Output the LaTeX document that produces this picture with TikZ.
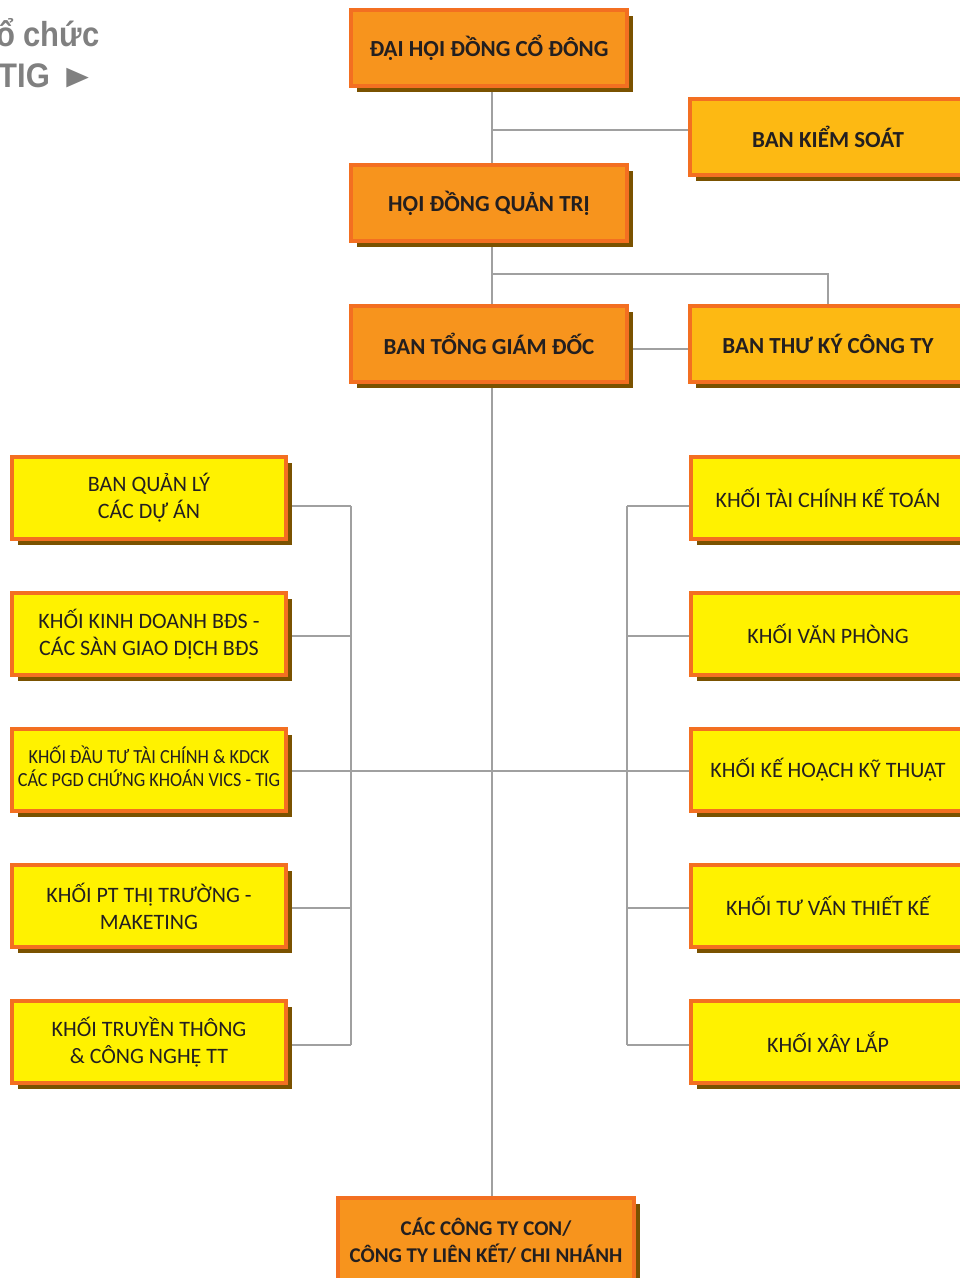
\documentclass[tikz,border=0pt]{standalone}
\usepackage{fontspec}
\setmainfont{Carlito}
\newfontfamily\hdfont{Liberation Sans}
\usetikzlibrary{shadows,backgrounds}
\definecolor{orgfill}{HTML}{F7941D}
\definecolor{bord}{HTML}{F36F21}
\definecolor{gldfill}{HTML}{FDB913}
\definecolor{yelfill}{HTML}{FFF200}
\definecolor{shd}{HTML}{7A5200}
\definecolor{txt}{HTML}{231F20}
\definecolor{conn}{HTML}{A0A0A0}
\definecolor{hdgray}{HTML}{808080}
\begin{document}
\begin{tikzpicture}[x=1pt,y=-1pt,
  box/.style={draw=bord, line width=4pt, outer sep=0pt, inner sep=0pt, align=center, text=txt,
    drop shadow={shadow xshift=6pt, shadow yshift=-6pt, fill=shd, opacity=1}},
  topbox/.style={box, fill=orgfill, minimum width=276pt, minimum height=76pt,
    font=\bfseries\fontsize{23}{27}\selectfont},
  goldbox/.style={box, fill=gldfill, minimum width=276pt, minimum height=76pt,
    font=\bfseries\fontsize{23}{27}\selectfont},
  yelbox/.style={box, fill=yelfill, minimum width=274pt, minimum height=82pt,
    font=\fontsize{22}{27}\selectfont},
  botbox/.style={box, fill=orgfill, minimum width=296pt, minimum height=86pt,
    font=\bfseries\fontsize{21}{27}\selectfont},
  link/.style={draw=conn, line width=2pt},
  hdtext/.style={inner sep=0pt, text=hdgray, font=\hdfont\bfseries\fontsize{31}{38}\selectfont}
]
\useasboundingbox (0,0) rectangle (960,1278);

% header text (cut at left edge, as in the reference)
\node[hdtext, anchor=base west] (h1) at (-4,46) {\scalebox{1}[1.12]{ổ chức}};
\node[hdtext, anchor=base west] (h2) at (-2,87) {\scalebox{1}[1.1]{TIG}\hspace{0.3em}{\fontsize{30}{36}\selectfont\scalebox{1.25}[1.1]{►}}};

% top column
\node[topbox] (dh) at (489,48) {ĐẠI HỘI ĐỒNG CỔ ĐÔNG};
\node[goldbox] (bks) at (828,137) {BAN KIỂM SOÁT};
\node[topbox] (hd) at (489,203) {HỘI ĐỒNG QUẢN TRỊ};
\node[topbox] (bt) at (489,344) {BAN TỔNG GIÁM ĐỐC};
\node[goldbox] (btk) at (828,344) {BAN THƯ KÝ CÔNG TY};

% left column
\node[yelbox] (l1) at (149,498) {BAN QUẢN LÝ\\CÁC DỰ ÁN};
\node[yelbox] (l2) at (149,634) {KHỐI KINH DOANH BĐS -\\CÁC SÀN GIAO DỊCH BĐS};
\node[yelbox, font=\fontsize{20}{24}\selectfont] (l3) at (149,770) {\scalebox{0.91}[1]{\begin{tabular}{@{}c@{}}KHỐI ĐẦU TƯ TÀI CHÍNH \& KDCK\\[-1pt]CÁC PGD CHỨNG KHOÁN VICS - TIG\end{tabular}}};
\node[yelbox] (l4) at (149,906) {KHỐI PT THỊ TRƯỜNG -\\MAKETING};
\node[yelbox] (l5) at (149,1042) {KHỐI TRUYỀN THÔNG\\\& CÔNG NGHỆ TT};

% right column
\node[yelbox] (r1) at (828,498) {KHỐI TÀI CHÍNH KẾ TOÁN};
\node[yelbox] (r2) at (828,634) {KHỐI VĂN PHÒNG};
\node[yelbox] (r3) at (828,770) {KHỐI KẾ HOẠCH KỸ THUẬT};
\node[yelbox] (r4) at (828,906) {KHỐI TƯ VẤN THIẾT KẾ};
\node[yelbox] (r5) at (828,1042) {KHỐI XÂY LẮP};

% bottom
\node[botbox] (cc) at (486,1241) {CÁC CÔNG TY CON/\\CÔNG TY LIÊN KẾT/ CHI NHÁNH};

% connector coordinates
\coordinate (sp) at (492,0);
\coordinate (k) at (492,130);
\coordinate (t) at (492,274);
\coordinate (lb1) at (351,506);
\coordinate (lb2) at (351,636);
\coordinate (lb3) at (351,771);
\coordinate (lb4) at (351,908);
\coordinate (lb5) at (351,1045);
\coordinate (rb1) at (627,506);
\coordinate (rb2) at (627,636);
\coordinate (rb3) at (627,771);
\coordinate (rb4) at (627,908);
\coordinate (rb5) at (627,1045);

\begin{scope}[on background layer]
  \draw[link] (dh.south -| sp) -- (hd.north -| sp);
  \draw[link] (k) -- (bks.west |- k);
  \draw[link] (hd.south -| sp) -- (bt.north -| sp);
  \draw[link] (t) -- (btk.north |- t) -- (btk.north);
  \draw[link] ([yshift=-5pt]bt.east) -- ([yshift=-5pt]btk.west);
  \draw[link] (bt.south -| sp) -- (cc.north -| sp);
  \draw[link] (lb1) -- (lb5);
  \draw[link] (rb1) -- (rb5);
  \draw[link] (l1.east |- lb1) -- (lb1);
  \draw[link] (l2.east |- lb2) -- (lb2);
  \draw[link] (l3.east |- lb3) -- (r3.west |- lb3);
  \draw[link] (l4.east |- lb4) -- (lb4);
  \draw[link] (l5.east |- lb5) -- (lb5);
  \draw[link] (rb1) -- (r1.west |- rb1);
  \draw[link] (rb2) -- (r2.west |- rb2);
  \draw[link] (rb4) -- (r4.west |- rb4);
  \draw[link] (rb5) -- (r5.west |- rb5);
\end{scope}
\end{tikzpicture}
\end{document}
